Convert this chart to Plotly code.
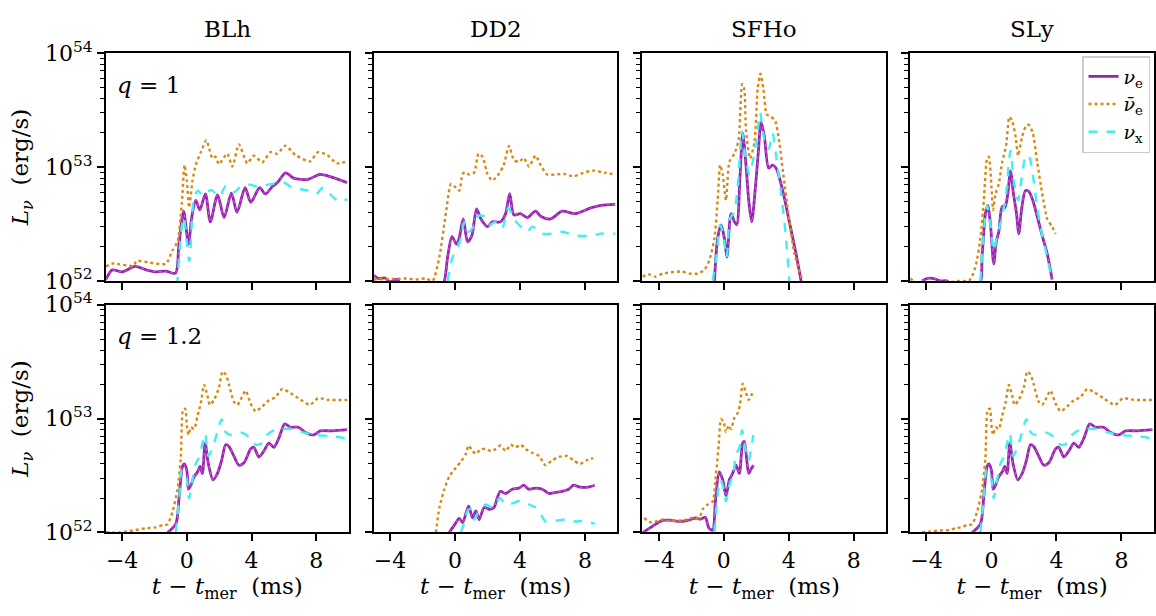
import plotly.graph_objects as go

# Neutrino luminosities L_nu in units of 1e52 erg/s versus t - t_mer (ms)
eos_names = ["BLh", "DD2", "SFHo", "SLy"]
mass_ratios = ["q = 1", "q = 1.2"]

# ---------------- q = 1 ----------------
blh1_t_nue = [-5.0, -4.6, -4.0, -3.2, -2.5, -1.9, -1.3, -0.7, -0.5, -0.2, 0.1, 0.3, 0.55, 0.8, 1.15, 1.45, 1.9,
              2.3, 2.75, 3.1, 3.6, 3.95, 4.5, 4.85, 5.3, 5.6, 6.1, 6.6, 7.5, 8.2, 8.9, 9.9]
blh1_nue = [1.03, 1.25, 1.2, 1.34, 1.25, 1.2, 1.22, 1.17, 2.0, 4.1, 2.1, 3.6, 5.1, 4.2, 5.8, 3.3, 5.7,
            3.6, 5.9, 4.0, 6.6, 4.9, 6.6, 5.8, 6.8, 7.3, 8.9, 8.0, 7.8, 8.6, 8.2, 7.3]
blh1_t_anue = [-5.0, -4.6, -3.3, -3.1, -2.3, -1.3, -0.9, -0.57, -0.31, -0.14, 0.0, 0.14, 0.35, 0.55, 0.86, 1.21,
               1.42, 1.58, 1.78, 1.98, 2.5, 2.81, 3.22, 3.73, 4.14, 4.66, 5.17, 5.58, 6.1, 6.7, 7.6, 8.1, 8.66,
               9.27, 9.9]
blh1_anue = [1.34, 1.42, 1.36, 1.5, 1.45, 1.41, 1.84, 2.23, 4.8, 10.4, 7.6, 4.4, 7.6, 10.4, 13.5, 17.2,
             13.9, 11.9, 12.3, 10.6, 13.1, 10.1, 15.8, 10.8, 12.6, 11.0, 13.5, 13.1, 15.4, 12.8, 11.2, 13.5, 12.8,
             10.8, 11.2]
blh1_t_nux = [-0.6, -0.2, 0.15, 0.45, 0.7, 1.0, 1.5, 2.0, 2.4, 2.9, 3.4, 3.9, 4.4, 5.0, 5.6, 6.0, 6.5, 7.0,
              7.5, 8.0, 8.4, 9.0, 9.4, 9.9]
blh1_nux = [0.9, 3.6, 1.5, 5.4, 6.2, 5.6, 6.3, 5.5, 6.8, 6.0, 6.9, 7.0, 6.7, 7.0, 7.2, 7.3, 6.6, 6.4,
            6.2, 5.8, 6.6, 5.5, 5.0, 5.2]

dd21_t_nue = [-5.0, -4.7, -4.3, -4.0, -3.6, -3.3, -1.0, -0.65, -0.45, -0.18, 0.1, 0.27, 0.51, 0.78, 1.04, 1.33,
              1.6, 2.0, 2.3, 2.8, 3.12, 3.37, 3.63, 4.04, 4.45, 4.96, 5.27, 5.88, 6.6, 7.4, 8.4, 9.0, 9.86]
dd21_nue = [1.12, 1.05, 1.06, 0.98, 1.03, 0.95, 0.8, 1.0, 1.62, 2.45, 2.1, 2.4, 3.5, 2.2, 2.5, 4.3,
            3.5, 3.0, 3.3, 3.3, 3.9, 5.85, 3.8, 3.9, 3.6, 4.1, 3.7, 3.5, 4.1, 3.9, 4.4, 4.6, 4.7]
dd21_t_anue = [-5.0, -3.8, -3.0, -2.4, -1.8, -1.37, -0.96, -0.55, -0.24, 0.06, 0.27, 0.47, 0.63, 0.88, 1.18,
               1.45, 1.7, 2.0, 2.3, 2.7, 3.0, 3.33, 3.63, 3.94, 4.24, 4.55, 4.96, 5.27, 5.67, 6.18, 6.7, 7.3,
               7.9, 8.5, 9.24, 9.86]
dd21_anue = [1.03, 1.04, 1.05, 1.03, 1.05, 1.0, 1.62, 4.0, 7.1, 6.6, 6.2, 8.7, 9.0, 8.6, 8.9,
             13.1, 12.3, 8.7, 7.6, 8.7, 10.4, 15.3, 11.5, 11.1, 12.0, 10.1, 12.6, 10.4, 8.6, 8.6, 8.7, 8.3,
             8.9, 9.3, 8.9, 8.6]
dd21_t_nux = [-0.45, -0.14, 0.16, 0.37, 0.57, 0.78, 1.08, 1.39, 1.8, 2.1, 2.5, 2.9, 3.29, 3.63, 4.14, 4.45,
              4.76, 5.37, 5.98, 6.6, 7.4, 8.4, 9.0, 9.86]
dd21_nux = [1.0, 1.62, 1.97, 2.4, 3.3, 2.7, 2.9, 3.7, 3.7, 3.1, 3.3, 2.9, 4.4, 3.5, 2.9, 2.7,
            3.0, 2.6, 2.6, 2.7, 2.5, 2.5, 2.6, 2.6]

sfho1_t_nue = [-0.57, -0.37, -0.16, 0.04, 0.2, 0.45, 0.66, 0.8, 1.0, 1.17, 1.37, 1.54, 1.72, 1.95, 2.13, 2.3,
               2.5, 2.77, 3.0, 3.22, 3.63, 4.04, 4.45, 4.76]
sfho1_nue = [1.0, 2.38, 3.1, 2.38, 1.62, 3.9, 3.3, 3.1, 8.1, 19.8, 10.4, 5.1, 3.3, 6.65, 13.5, 24.8,
             18.6, 9.8, 10.4, 9.8, 6.2, 3.3, 1.73, 1.0]
sfho1_t_anue = [-5.0, -4.6, -4.2, -3.75, -3.24, -2.6, -2.1, -1.6, -1.19, -0.88, -0.57, -0.37, -0.22, -0.06, 0.14,
                0.35, 0.66, 0.92, 1.13, 1.27, 1.37, 1.62, 1.89, 2.09, 2.26, 2.44, 2.65, 2.91, 3.16, 3.43, 3.67,
                4.0, 4.35, 4.86]
sfho1_anue = [1.09, 1.14, 1.09, 1.16, 1.19, 1.21, 1.16, 1.16, 1.25, 1.52, 2.38, 5.1, 10.4, 8.6, 5.1,
              11.1, 13.1, 17.4, 53.7, 48.0, 21.1, 11.9, 16.3, 48.6, 66.0, 48.6, 29.0, 27.6, 25.6, 16.3, 8.6,
              3.7, 1.73, 1.0]
sfho1_t_nux = [-0.68, -0.43, -0.22, -0.06, 0.18, 0.39, 0.66, 0.86, 1.13, 1.33, 1.58, 1.83, 2.09, 2.24, 2.5,
               2.77, 3.0, 3.22, 3.53, 3.8, 4.04]
sfho1_nux = [1.0, 1.73, 3.1, 2.7, 1.62, 3.5, 4.1, 6.65, 20.5, 12.6, 8.6, 11.9, 21.1, 30.0, 17.4,
             14.4, 19.8, 12.6, 5.85, 2.7, 1.0]

sly1_t_nue = [-4.27, -3.96, -3.55, -3.14, -2.73, -2.5, -0.8, -0.57, -0.37, -0.22, -0.06, 0.14, 0.29, 0.45, 0.66,
              0.82, 0.98, 1.17, 1.35, 1.54, 1.68, 1.85, 2.09, 2.3, 2.54, 2.81, 3.12, 3.43, 3.73]
sly1_nue = [1.0, 1.05, 1.05, 1.0, 1.0, 0.9, 0.9, 1.73, 3.9, 4.6, 3.1, 1.41, 2.2, 2.7, 4.5,
            4.4, 5.5, 9.2, 5.85, 3.9, 2.6, 4.2, 6.2, 6.1, 5.1, 3.7, 2.5, 1.73, 1.03]
sly1_t_anue = [-5.0, -4.7, -2.4, -2.0, -1.4, -1.19, -0.94, -0.68, -0.47, -0.27, -0.16, 0.0, 0.1, 0.25, 0.45,
               0.66, 0.9, 1.1, 1.27, 1.48, 1.64, 1.89, 2.13, 2.3, 2.54, 2.81, 3.12, 3.43, 3.73, 3.94]
sly1_anue = [1.05, 0.98, 0.98, 1.0, 1.0, 1.1, 1.41, 2.38, 5.1, 11.9, 12.3, 6.65, 4.2, 5.85, 7.1,
             11.1, 15.4, 27.6, 25.6, 18.6, 12.6, 18.6, 23.0, 23.5, 20.0, 11.1, 5.85, 3.5, 3.0, 2.6]
sly1_t_nux = [-0.68, -0.47, -0.27, -0.06, 0.14, 0.35, 0.66, 0.9, 1.17, 1.37, 1.64, 1.89, 2.13, 2.3, 2.54,
              2.81, 3.12, 3.43, 3.73]
sly1_nux = [1.0, 2.7, 4.6, 3.1, 1.84, 2.5, 3.7, 5.85, 13.9, 7.6, 5.1, 8.6, 12.6, 12.6, 8.6,
            4.5, 2.5, 1.62, 1.0]

# ---------------- q = 1.2 ----------------
blh2_t_nue = [-1.19, -0.68, -0.47, -0.27, -0.16, 0.0, 0.1, 0.25, 0.45, 0.66, 0.82, 0.96, 1.13, 1.33, 1.62, 1.89,
              2.15, 2.4, 2.6, 2.9, 3.22, 3.53, 3.94, 4.14, 4.45, 4.76, 5.07, 5.37, 5.68, 6.05, 6.4, 6.9, 7.3,
              7.84, 8.25, 8.96, 9.9]
blh2_nue = [1.0, 1.19, 2.1, 3.8, 4.0, 3.5, 2.4, 2.6, 3.1, 3.4, 3.8, 3.3, 6.1, 4.0, 2.9, 3.3,
            4.3, 5.9, 5.7, 4.7, 3.9, 4.1, 5.4, 5.6, 4.6, 5.2, 6.1, 5.6, 6.7, 9.0, 8.4, 8.4, 7.6,
            7.2, 7.8, 7.8, 8.0]
blh2_t_anue = [-5.0, -4.2, -3.34, -2.52, -1.9, -1.5, -1.19, -0.88, -0.57, -0.37, -0.23, -0.1, 0.0, 0.1, 0.25,
               0.45, 0.66, 0.86, 1.07, 1.27, 1.42, 1.68, 1.99, 2.2, 2.4, 2.6, 2.9, 3.12, 3.32, 3.63, 3.94, 4.25,
               4.66, 4.96, 5.48, 5.89, 6.3, 6.9, 7.6, 8.1, 8.76, 9.9]
blh2_anue = [1.0, 1.0, 1.04, 1.09, 1.11, 1.16, 1.18, 1.53, 2.42, 4.6, 12.0, 12.2, 8.7, 7.2, 8.4,
             8.1, 10.6, 13.6, 19.8, 16.0, 13.2, 14.6, 18.8, 25.9, 24.4, 20.0, 14.1, 13.2, 14.6, 17.6, 13.6, 11.6,
             12.8, 14.1, 15.5, 18.2, 17.1, 15.1, 13.2, 15.1, 14.6, 14.6]
blh2_t_nux = [-0.68, -0.47, -0.31, -0.16, 0.0, 0.14, 0.35, 0.55, 0.76, 0.92, 1.13, 1.33, 1.58, 1.89, 2.15,
              2.4, 2.71, 3.0, 3.43, 3.84, 4.25, 4.66, 4.96, 5.37, 5.89, 6.5, 7.1, 7.9, 8.96, 9.9]
blh2_nux = [1.0, 2.0, 3.5, 3.5, 2.9, 2.0, 2.9, 4.0, 4.6, 5.7, 7.4, 4.7, 5.5, 7.6, 9.9,
            7.6, 7.2, 7.5, 7.5, 6.9, 5.9, 6.1, 7.2, 7.9, 8.1, 8.1, 7.6, 7.2, 7.0, 6.7]

dd22_t_nue = [-0.35, -0.04, 0.27, 0.47, 0.84, 1.08, 1.29, 1.49, 1.8, 2.1, 2.4, 2.6, 2.8, 3.12, 3.53, 3.94,
              4.24, 4.55, 4.96, 5.37, 5.78, 6.18, 6.6, 7.0, 7.3, 7.7, 8.2, 8.6]
dd22_nue = [1.0, 1.16, 1.33, 1.22, 1.7, 1.35, 1.55, 1.3, 1.66, 1.6, 1.66, 2.0, 2.3, 2.2, 2.4, 2.45,
            2.6, 2.4, 2.45, 2.4, 2.2, 2.25, 2.3, 2.4, 2.6, 2.5, 2.5, 2.6]
dd22_t_anue = [-1.17, -0.96, -0.65, -0.35, 0.06, 0.37, 0.67, 0.84, 1.08, 1.29, 1.59, 1.9, 2.2, 2.5, 2.8, 3.12,
               3.43, 3.73, 4.04, 4.35, 4.76, 5.17, 5.57, 5.98, 6.4, 6.9, 7.3, 7.7, 8.1, 8.5]
dd22_anue = [1.0, 1.64, 2.4, 3.1, 3.7, 4.2, 4.9, 5.8, 5.2, 4.9, 5.4, 5.4, 5.2, 5.4, 5.8, 5.2,
             5.9, 5.6, 5.9, 5.4, 5.0, 4.7, 3.9, 4.3, 4.6, 4.7, 4.3, 4.0, 4.3, 4.5]
dd22_t_nux = [0.37, 0.57, 0.78, 0.98, 1.18, 1.49, 1.9, 2.3, 2.6, 2.8, 3.12, 3.53, 4.04, 4.55, 4.96, 5.27,
              5.57, 5.98, 6.4, 6.9, 7.4, 7.8, 8.2, 8.6]
dd22_nux = [1.0, 1.22, 1.55, 1.6, 1.3, 1.55, 1.76, 1.66, 1.9, 2.0, 1.76, 1.8, 1.9, 1.76, 1.66, 1.46,
            1.25, 1.25, 1.28, 1.3, 1.25, 1.26, 1.22, 1.2]

sfho2_t_nue = [-5.0, -4.6, -4.2, -3.75, -3.24, -2.73, -2.2, -1.7, -1.4, -1.13, -0.92, -0.68, -0.51, -0.27, -0.06,
               0.14, 0.35, 0.55, 0.76, 0.96, 1.17, 1.27, 1.42, 1.54, 1.68, 1.83]
sfho2_nue = [1.0, 1.08, 1.18, 1.28, 1.28, 1.25, 1.28, 1.34, 1.31, 1.36, 1.1, 1.05, 1.88, 3.4, 2.9,
             2.1, 2.9, 3.3, 3.9, 3.3, 6.1, 6.3, 4.3, 3.3, 3.6, 3.9]
sfho2_t_anue = [-4.9, -4.5, -4.06, -3.75, -3.34, -2.93, -2.42, -2.0, -1.5, -1.3, -0.98, -0.68, -0.47, -0.31,
                -0.16, 0.0, 0.14, 0.31, 0.45, 0.66, 0.86, 1.0, 1.17, 1.33, 1.54, 1.83]
sfho2_anue = [1.34, 1.23, 1.26, 1.3, 1.26, 1.27, 1.28, 1.34, 1.34, 1.6, 1.76, 1.88, 3.3, 5.8,
              9.9, 9.3, 7.6, 8.7, 8.1, 10.2, 11.2, 13.2, 20.3, 17.6, 14.6, 17.6]
sfho2_t_nux = [-0.57, -0.43, -0.22, -0.06, 0.14, 0.35, 0.6, 0.76, 0.96, 1.13, 1.33, 1.54, 1.68, 1.83]
sfho2_nux = [1.0, 1.75, 2.9, 2.6, 1.88, 2.6, 3.3, 4.9, 5.5, 7.9, 5.5, 4.3, 5.4, 7.2]

# SLy, q = 1.2
sly2_t_nue = list(blh2_t_nue)
sly2_nue = list(blh2_nue)
sly2_t_anue = [-4.27, -3.8, -3.2, -2.6, -2.2, -1.9, -1.5, -1.19, -0.88, -0.57, -0.37, -0.23, -0.1, 0.0, 0.1,
               0.25, 0.45, 0.66, 0.86, 1.07, 1.27, 1.42, 1.68, 1.99, 2.2, 2.4, 2.6, 2.9, 3.12, 3.32, 3.63, 3.94,
               4.25, 4.66, 4.96, 5.48, 5.89, 6.3, 6.9, 7.6, 8.1, 8.76, 9.9]
sly2_anue = [1.0, 1.02, 1.04, 1.05, 1.09, 1.11, 1.16, 1.18, 1.53, 2.42, 4.6, 12.0, 12.2, 8.7, 7.2,
             8.4, 8.1, 10.6, 13.6, 19.8, 16.0, 13.2, 14.6, 18.8, 25.9, 24.4, 20.0, 14.1, 13.2, 14.6, 17.6, 13.6,
             11.6, 12.8, 14.1, 15.5, 18.2, 17.1, 15.1, 13.2, 15.1, 14.6, 14.6]
sly2_t_nux = list(blh2_t_nux)
sly2_nux = list(blh2_nux)

panels = [
    [(blh1_t_nue, blh1_nue, blh1_t_anue, blh1_anue, blh1_t_nux, blh1_nux),
     (dd21_t_nue, dd21_nue, dd21_t_anue, dd21_anue, dd21_t_nux, dd21_nux),
     (sfho1_t_nue, sfho1_nue, sfho1_t_anue, sfho1_anue, sfho1_t_nux, sfho1_nux),
     (sly1_t_nue, sly1_nue, sly1_t_anue, sly1_anue, sly1_t_nux, sly1_nux)],
    [(blh2_t_nue, blh2_nue, blh2_t_anue, blh2_anue, blh2_t_nux, blh2_nux),
     (dd22_t_nue, dd22_nue, dd22_t_anue, dd22_anue, dd22_t_nux, dd22_nux),
     (sfho2_t_nue, sfho2_nue, sfho2_t_anue, sfho2_anue, sfho2_t_nux, sfho2_nux),
     (sly2_t_nue, sly2_nue, sly2_t_anue, sly2_anue, sly2_t_nux, sly2_nux)],
]

UNIT = 1e52
W, H = 1156, 616
FONT = "DejaVu Serif"
C_NUE = "#9722ae"
C_NUE_HI = "#c46ad4"
C_ANUE = "#d68a12"
C_NUX = "#40f0f0"

# panel pixel boxes
col_px = [(106, 349), (374, 618), (643, 887), (911, 1155)]
row_px = [(39, 278), (303, 542)]

fig = go.Figure()
minor_vals = [float(m) * 10.0 ** e for e in (52, 53) for m in range(2, 10)]

for r in range(2):
    for c in range(4):
        k = r * 4 + c + 1
        xa = "x" if k == 1 else f"x{k}"
        ya = "y" if k == 1 else f"y{k}"
        tn, vn, ta, va, tx, vx = panels[r][c]
        show = (r == 0 and c == 3)
        lum_nue = [v * UNIT for v in vn]
        fig.add_trace(go.Scatter(x=tn, y=lum_nue, mode="lines", xaxis=xa, yaxis=ya,
                                 line=dict(color=C_NUE, width=2.8, shape="spline", smoothing=0.8),
                                 name="<i>ν</i><sub>e</sub>", legendgroup="nue", showlegend=show, legendrank=1))
        # lighter dotted core on the nu_e curve
        fig.add_trace(go.Scatter(x=tn, y=lum_nue, mode="lines", xaxis=xa, yaxis=ya,
                                 line=dict(color=C_NUE_HI, width=1.0, dash="dot", shape="spline", smoothing=0.8),
                                 legendgroup="nue", showlegend=False, hoverinfo="skip"))
        fig.add_trace(go.Scatter(x=ta, y=[v * UNIT for v in va], mode="lines", xaxis=xa, yaxis=ya,
                                 line=dict(color=C_ANUE, width=2.4, dash="dot", shape="spline", smoothing=0.6),
                                 name="<i>ν̄</i><sub>e</sub>", showlegend=show, legendrank=2))
        fig.add_trace(go.Scatter(x=tx, y=[v * UNIT for v in vx], mode="lines", xaxis=xa, yaxis=ya,
                                 line=dict(color=C_NUX, width=2.4, dash="dash", shape="spline", smoothing=0.8),
                                 name="<i>ν</i><sub>x</sub>", showlegend=show, legendrank=3))

        x0, x1 = col_px[c]
        y0, y1 = row_px[r]
        xkey = "xaxis" if k == 1 else f"xaxis{k}"
        ykey = "yaxis" if k == 1 else f"yaxis{k}"
        fig.layout[xkey] = dict(
            domain=[x0 / W, x1 / W], anchor=ya, range=[-5, 10],
            tickvals=[-4, 0, 4, 8], ticktext=["−4", "0", "4", "8"],
            showticklabels=(r == 1), ticks="outside", ticklen=7, tickwidth=1.5, tickcolor="black",
            showline=True, linecolor="black", linewidth=2, mirror=True, showgrid=False, zeroline=False,
            tickfont=dict(family=FONT, size=22, color="black"),
            title=dict(text="<i>t</i> − <i>t</i><sub>mer</sub>  (ms)" if r == 1 else "",
                       font=dict(family=FONT, size=23, color="black"), standoff=2),
        )
        fig.layout[ykey] = dict(
            domain=[1 - y1 / H, 1 - y0 / H], anchor=xa, type="log", range=[52, 54],
            tickvals=[1e52, 1e53, 1e54],
            ticktext=["10<sup>52</sup>", "10<sup>53</sup>", "10<sup>54</sup>"],
            showticklabels=(c == 0), ticks="outside", ticklen=7, tickwidth=1.5, tickcolor="black",
            minor=dict(tickvals=minor_vals, ticks="outside", ticklen=4, tickwidth=1, tickcolor="black",
                       showgrid=False),
            showline=True, linecolor="black", linewidth=2, mirror=True, showgrid=False, zeroline=False,
            tickfont=dict(family=FONT, size=22, color="black"),
            title=dict(text="<i>L</i><sub><i>ν</i></sub>  (erg/s)" if c == 0 else "",
                       font=dict(family=FONT, size=23, color="black"), standoff=10),
        )

annotations = []
for c, name in enumerate(eos_names):
    x0, x1 = col_px[c]
    annotations.append(dict(text=name, x=(x0 + x1) / 2 / W, y=1 - 14 / H, xref="paper", yref="paper",
                            showarrow=False, xanchor="center", yanchor="middle",
                            font=dict(family=FONT, size=23, color="black")))
for r, label in enumerate(mass_ratios):
    q_text = "<i>q</i> = " + label.split("= ")[1]
    annotations.append(dict(text=q_text, x=115 / W, y=1 - (row_px[r][0] + 33) / H, xref="paper", yref="paper",
                            showarrow=False, xanchor="left", yanchor="middle",
                            font=dict(family=FONT, size=23, color="black")))

fig.update_layout(
    width=W, height=H, margin=dict(l=0, r=0, t=0, b=0),
    paper_bgcolor="white", plot_bgcolor="white", annotations=annotations,
    legend=dict(x=1151 / W, y=1 - 42 / H, xanchor="right", yanchor="top", bgcolor="rgba(255,255,255,0.9)",
                bordercolor="#cccccc", borderwidth=1.5, font=dict(family=FONT, size=19, color="black"),
                tracegroupgap=0, itemwidth=30),
)

fig.write_html("out.html")
